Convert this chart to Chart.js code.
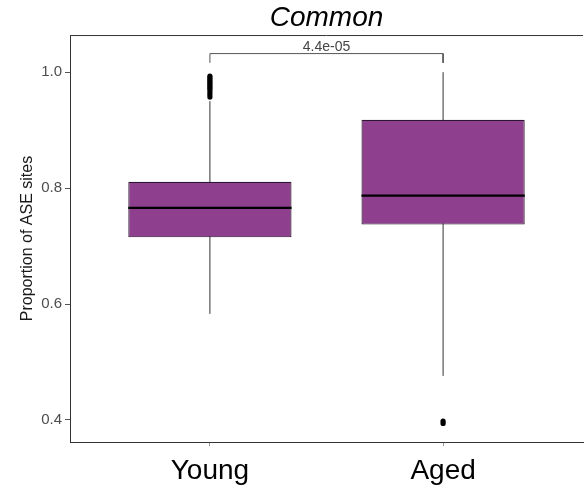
<!DOCTYPE html>
<html>
<head>
<meta charset="utf-8">
<script src="https://cdn.jsdelivr.net/npm/chart.js@4/dist/chart.umd.min.js"></script>
<style>
  html, body { margin: 0; padding: 0; background: #ffffff; }
  #wrap { width: 587px; height: 492px; }
</style>
</head>
<body>
<div id="wrap"><canvas id="c" width="587" height="492"></canvas></div>
<script>
// ---- data ----
const categories = ['Young', 'Aged'];
const q1       = [0.715, 0.737];
const median   = [0.766, 0.787];
const q3       = [0.811, 0.918];
const whiskLo  = [0.583, 0.476];
const whiskHi  = [0.950, 1.000];
const outliersYoung = [0.957, 0.961, 0.965, 0.969, 0.972, 0.975, 0.978, 0.981, 0.984, 0.987, 0.990, 0.993];
const outliersAged  = [0.394, 0.398];
const yTicks = [0.4, 0.6, 0.8, 1.0];
const pValueLabel = '4.4e-05';
const bracketLow = 1.016, bracketHigh = 1.032, pLabelY = 1.043;
const titleText = 'Common';
const yTitle = 'Proportion of ASE sites';

// ---- build datasets ----
const BOX_RATIO = 0.7;          // box width as a fraction of category spacing
const HALF = BOX_RATIO / 2;
const boxData = categories.map((c, i) => ({ x: i + 1, y: [q1[i], q3[i]] }));
const medianData = [];
categories.forEach((c, i) => {
  medianData.push({ x: i + 1 - HALF, y: median[i] }, { x: i + 1 + HALF, y: median[i] }, { x: i + 1.5, y: null });
});
const whiskerData = [];
categories.forEach((c, i) => {
  whiskerData.push({ x: i + 1, y: whiskLo[i] }, { x: i + 1, y: whiskHi[i] }, { x: i + 1.5, y: null });
});
const outlierData = [
  ...outliersYoung.map(v => ({ x: 1, y: v })),
  ...outliersAged.map(v => ({ x: 2, y: v }))
];
const bracketData = [
  { x: 1, y: bracketLow }, { x: 1, y: bracketHigh }, { x: 2, y: bracketHigh }, { x: 2, y: bracketLow }
];

const frameAndLabel = {
  id: 'frameAndLabel',
  afterDatasetsDraw(chart) {
    const { ctx, chartArea, scales } = chart;
    ctx.save();
    // top panel border
    ctx.strokeStyle = '#333333';
    ctx.lineWidth = 1;
    ctx.beginPath();
    ctx.moveTo(chartArea.left, chartArea.top + 0.5);
    ctx.lineTo(chartArea.right, chartArea.top + 0.5);
    ctx.stroke();
    // p-value label
    ctx.fillStyle = '#444444';
    ctx.font = '14px "Liberation Sans", Arial, sans-serif';
    ctx.textAlign = 'center';
    ctx.textBaseline = 'middle';
    ctx.fillText(pValueLabel, scales.x.getPixelForValue(1.5), scales.y.getPixelForValue(pLabelY));
    ctx.restore();
  }
};

new Chart(document.getElementById('c'), {
  data: {
    datasets: [
      {
        type: 'scatter', label: 'outliers', data: outlierData, order: 0,
        pointRadius: 2.6, pointBackgroundColor: '#000000', pointBorderColor: '#000000', pointBorderWidth: 0
      },
      {
        type: 'line', label: 'median', data: medianData, order: 1,
        borderColor: '#000000', borderWidth: 2.2, pointRadius: 0, spanGaps: false, tension: 0
      },
      {
        type: 'bar', label: 'box', data: boxData, order: 2,
        backgroundColor: '#8E3F8D', borderColor: '#2e1530', borderWidth: 1.2, borderSkipped: false,
        barPercentage: BOX_RATIO, categoryPercentage: 1.0
      },
      {
        type: 'line', label: 'whiskers', data: whiskerData, order: 3,
        borderColor: '#333333', borderWidth: 1, pointRadius: 0, spanGaps: false, tension: 0
      },
      {
        type: 'line', label: 'bracket', data: bracketData, order: 4,
        borderColor: '#555555', borderWidth: 1, pointRadius: 0, tension: 0
      }
    ]
  },
  options: {
    responsive: false,
    animation: false,
    layout: { padding: { left: 0, right: 1, top: 0, bottom: 0 } },
    plugins: {
      legend: { display: false },
      tooltip: { enabled: false },
      title: {
        display: true, text: titleText, fullSize: false, color: '#000000',
        font: { family: '"Liberation Sans", Arial, sans-serif', size: 28, style: 'italic', weight: 'normal', lineHeight: 1.18 },
        padding: { top: 2, bottom: 0 }
      }
    },
    scales: {
      x: {
        type: 'linear', min: 0.4, max: 2.6, offset: false,
        afterBuildTicks: s => { s.ticks = categories.map((c, i) => ({ value: i + 1 })); },
        afterFit: s => { s.height = 50; },
        ticks: {
          callback: v => categories[Math.round(v) - 1] || '',
          color: '#000000', padding: 8, maxRotation: 0, autoSkip: false,
          font: { family: '"Liberation Sans", Arial, sans-serif', size: 28 }
        },
        grid: { offset: false, drawOnChartArea: false, drawTicks: true, tickLength: 4, color: '#999999' },
        border: { display: true, color: '#333333', width: 1 }
      },
      y: {
        type: 'linear', min: 0.362, max: 1.064,
        afterBuildTicks: s => { s.ticks = yTicks.map(v => ({ value: v })); },
        afterFit: s => { s.width = 70; },
        ticks: {
          callback: v => Number(v).toFixed(1),
          color: '#4d4d4d', padding: 3,
          font: { family: '"Liberation Sans", Arial, sans-serif', size: 15 }
        },
        grid: { drawOnChartArea: false, drawTicks: true, tickLength: 5, color: '#555555' },
        border: { display: true, color: '#333333', width: 1 },
        title: {
          display: true, text: yTitle, color: '#1a1a1a',
          font: { family: '"Liberation Sans", Arial, sans-serif', size: 16 },
          padding: { top: 18, bottom: 0 }
        }
      }
    }
  },
  plugins: [frameAndLabel]
});
</script>
</body>
</html>
